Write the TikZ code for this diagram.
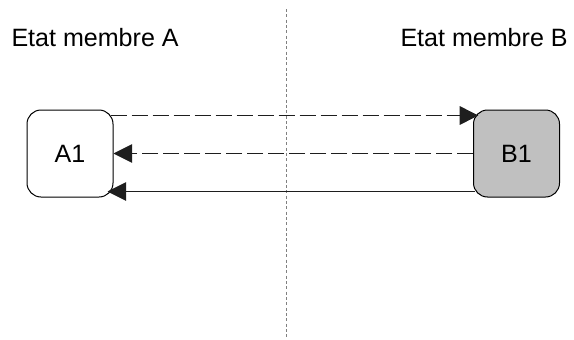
\documentclass[tikz,border=0pt]{standalone}
\usepackage{fontspec}
\setmainfont{Liberation Sans}
\usetikzlibrary{arrows.meta}

\tikzset{every picture/.style={line width=0.75pt}}
\tikzset{
	box/.style={draw, rounded corners=10.5pt, minimum width=64.5pt, minimum height=65.25pt, inner sep=0pt, font=\fontsize{18.8pt}{22pt}\selectfont},
	label/.style={anchor=base west, inner sep=0pt, font=\fontsize{18.8pt}{22pt}\selectfont},
	msg/.style={-{Triangle[length=14pt,width=14pt]}, color={rgb, 255:red, 30; green, 30; blue, 30 }},
	dashmsg/.style={msg, dash pattern=on 12pt off 3.75pt}
}

\begin{document}
\begin{tikzpicture}[x=0.75pt,y=0.75pt,yscale=-1,xscale=1]
		%set diagram left start at 0, and has size of 574 x 339
		\useasboundingbox (0,0) rectangle (574,339);

		\draw  [color={rgb, 255:red, 128; green, 128; blue, 128 }  ,dash pattern=on 2.25pt off 1.75pt ]  (286,9) -- (286,339) ;

		\draw (11,46) node [label] (stateA) {Etat membre A};
		\draw (400,46) node [label] (stateB) {Etat membre B};

		\draw (70,153.5) node [box ,fill={rgb, 255:red, 255; green, 255; blue, 255 } ] (A1) {A1};
		\draw (516.5,153.5) node [box ,fill={rgb, 255:red, 192; green, 192; blue, 192 } ] (B1) {B1};


		\draw [dashmsg]  ([xshift=-2.25pt,yshift=4.5pt]A1.north east) -- ([xshift=4pt,yshift=4.5pt]B1.north west) ;
		\draw [dashmsg]  (B1.west) -- (A1.east) ;
		\draw [msg]  ([xshift=1.5pt,yshift=-4.5pt]B1.south west) -- ([xshift=-4.5pt,yshift=-4.5pt]A1.south east) ;

		\end{tikzpicture}
\end{document}
